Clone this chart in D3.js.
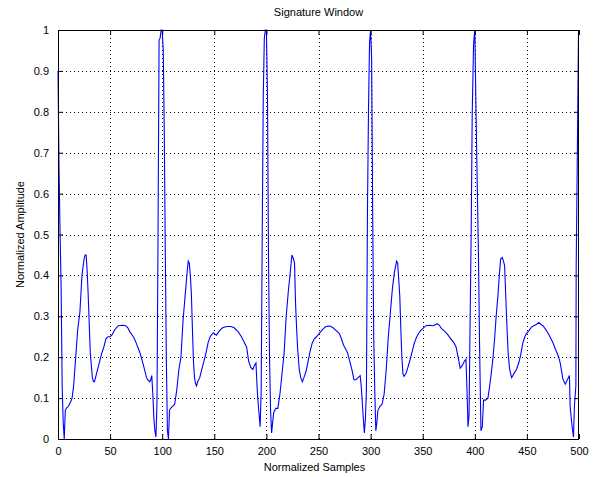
<!DOCTYPE html>
<html>
<head>
<meta charset="utf-8">
<script src="https://cdn.jsdelivr.net/npm/d3@7"></script>
<style>
  body { margin: 0; background: #fff; }
  svg text { font-family: Arial, "Liberation Sans", Helvetica, sans-serif; fill: #000; }
</style>
</head>
<body>
<svg id="chart" width="598" height="477"></svg>
<script>
// samples, one beat at a time [x, amplitude]
var beat0 = [[0,0.90],[1,0.66],[2,0.50],[3,0.37],[4,0.13],[5,0.04],[6,0.0],[7,0.07],[8,0.075],[10,0.08],[12,0.09],[13.5,0.10],[15,0.13],[17,0.2],[19,0.27],[21,0.31],[23,0.40],[25,0.44],[26,0.45],[27,0.45],[28,0.41],[29,0.35],[30,0.28],[31,0.21],[32,0.18],[33,0.15],[34,0.14],[35,0.14],[36,0.15],[38,0.17],[40,0.19],[42,0.21],[44,0.225],[46,0.245],[48,0.25],[50,0.25],[52,0.255],[54,0.265],[56,0.272],[58,0.277],[62,0.278],[65,0.277],[67,0.272],[69,0.262],[71,0.255],[73,0.247],[75,0.235],[77,0.222],[79,0.208],[81,0.19],[83,0.17],[85,0.15],[86,0.145],[88,0.14],[89,0.145],[90,0.155],[91,0.11],[92,0.05],[93,0.02],[94,0.005],[95,0.09]];
var beat1 = [[96,0.50],[97,0.975],[98,0.98],[99,1.0],[100,1.0],[101,0.95],[102,0.75],[103,0.45],[104,0.19],[105,0.02],[106,0.0],[107,0.07],[108,0.075],[110,0.08],[112,0.085],[114,0.12],[116,0.17],[118,0.2],[120,0.29],[122,0.35],[124,0.41],[125,0.435],[126,0.43],[127,0.4],[128,0.355],[129,0.27],[130,0.19],[131,0.15],[132,0.135],[133,0.13],[134,0.14],[136,0.15],[138,0.17],[140,0.19],[142,0.21],[144,0.235],[146,0.25],[149,0.26],[152,0.254],[155,0.265],[158,0.272],[162,0.275],[166,0.275],[169,0.272],[173,0.262],[176,0.25],[178,0.24],[181,0.225],[183,0.19],[185,0.175],[187,0.17],[188.5,0.18],[190,0.186],[191,0.13],[192,0.09],[193,0.06],[194,0.03],[195,0.12]];
var beat2 = [[196,0.5],[197,0.84],[198,0.98],[199,1.0],[200,1.0],[201,0.85],[202,0.45],[203,0.2],[204,0.07],[205,0.015],[206,0.04],[207,0.065],[209,0.075],[211,0.075],[213,0.11],[215,0.16],[217,0.21],[219,0.3],[221,0.36],[223,0.41],[224.5,0.45],[226,0.44],[227,0.43],[228,0.33],[229,0.27],[230,0.22],[231.5,0.17],[233,0.15],[234.5,0.14],[236,0.15],[238,0.165],[240,0.19],[242,0.215],[244,0.235],[246,0.245],[248,0.25],[251,0.259],[254,0.268],[257,0.275],[261,0.276],[264,0.272],[267,0.265],[270,0.258],[272,0.245],[274,0.23],[276,0.22],[278,0.21],[280,0.19],[282,0.17],[284,0.145],[286,0.145],[288,0.15],[290,0.155],[291,0.13],[292,0.09],[293,0.05],[294,0.015],[295,0.05],[296,0.12]];
var beat3 = [[297,0.56],[298,0.81],[299,0.97],[300,1.0],[301,0.93],[302,0.55],[303,0.25],[304,0.12],[305,0.02],[306,0.04],[307,0.07],[309,0.08],[311,0.085],[313,0.11],[315,0.17],[317,0.25],[319,0.31],[321,0.37],[323,0.41],[325,0.435],[326,0.43],[327,0.39],[328,0.35],[329,0.27],[330,0.2],[331,0.16],[332,0.153],[334,0.16],[336,0.177],[338,0.195],[340,0.215],[342,0.235],[344,0.248],[346,0.258],[348,0.265],[350,0.27],[353,0.277],[356,0.278],[360,0.277],[364,0.282],[366,0.278],[368,0.27],[371,0.264],[374,0.255],[377,0.245],[380,0.235],[382,0.225],[384,0.2],[386,0.173],[388,0.18],[390,0.19],[391.5,0.195],[392.5,0.12],[393.5,0.03],[394.5,0.06],[395.2,0.225]];
var beat4 = [[396.5,0.5],[397.5,0.79],[398.8,0.965],[400,1.0],[401.3,0.78],[402.5,0.6],[403.5,0.45],[404.6,0.226],[405.9,0.02],[407.2,0.03],[408.4,0.095],[410.3,0.095],[412.6,0.1],[414,0.125],[415.8,0.16],[417.5,0.2],[419,0.245],[420.5,0.3],[422.2,0.35],[423.5,0.4],[424.8,0.44],[426.4,0.444],[427.5,0.435],[428.6,0.424],[429.7,0.35],[430.8,0.277],[432,0.21],[433.4,0.171],[435.3,0.15],[436.5,0.155],[438.2,0.163],[440,0.17],[442.3,0.187],[444,0.205],[446.2,0.236],[448,0.25],[449.4,0.257],[452,0.265],[454.2,0.273],[456.5,0.277],[459,0.28],[461.5,0.285],[463.5,0.28],[465.4,0.277],[468,0.268],[470.1,0.26],[472.5,0.248],[474.9,0.236],[477,0.222],[478.7,0.212],[480.5,0.2],[481.9,0.187],[483.2,0.167],[484.5,0.147],[486.8,0.134],[489.2,0.147],[490.8,0.155],[491.5,0.08],[493.4,0.03],[494.7,0.005],[495.6,0.08],[497,0.13],[497.3,0.42],[498.5,0.72],[499.5,0.99],[500,1.0]];

var xTicks = [0,50,100,150,200,250,300,350,400,450,500];
var yTicks = [0,0.1,0.2,0.3,0.4,0.5,0.6,0.7,0.8,0.9,1];
var titleText = "Signature Window";
var xLabel = "Normalized Samples";
var yLabel = "Normalized Amplitude";

var allData = beat0.concat(beat1, beat2, beat3, beat4);

var svg = d3.select("#chart");
var margin = {left: 58, right: 19, top: 30, bottom: 38};
var W = 598, H = 477;

var xScale = d3.scaleLinear().domain([0,500]).range([margin.left, W - margin.right]);
var yScale = d3.scaleLinear().domain([0,1]).range([H - margin.bottom, margin.top]);

var x0 = xScale.range()[0], x1 = xScale.range()[1];
var y0 = yScale.range()[0], y1 = yScale.range()[1];

// dotted grid
var grid = svg.append("g").attr("class","grid");
grid.selectAll(".vgrid").data(xTicks.slice(1,-1)).enter().append("line")
  .attr("x1",function(d){return Math.round(xScale(d))+0.5;})
  .attr("x2",function(d){return Math.round(xScale(d))+0.5;})
  .attr("y1",y0).attr("y2",y1)
  .attr("stroke","#000").attr("stroke-dasharray","1,3");
grid.selectAll(".hgrid").data(yTicks.slice(1,-1)).enter().append("line")
  .attr("y1",function(d){return Math.round(yScale(d))+0.5;})
  .attr("y2",function(d){return Math.round(yScale(d))+0.5;})
  .attr("x1",x0).attr("x2",x1)
  .attr("stroke","#000").attr("stroke-dasharray","1,3");

// the signal
var line = d3.line()
  .x(function(d){return xScale(d[0]);})
  .y(function(d){return yScale(d[1]);});

svg.append("path")
  .datum(allData)
  .attr("d", line)
  .attr("fill","none")
  .attr("stroke","#0000ff")
  .attr("stroke-width",1.1);

// axes, ticks pointing inward, mirrored on top and right
var fmt = function(d){ return d3.format("")(+d.toFixed(1)); };
var xAxis = d3.axisBottom(xScale).tickValues(xTicks).tickSizeInner(-5).tickSizeOuter(0).tickPadding(8).tickFormat(fmt);
var xAxisTop = d3.axisTop(xScale).tickValues(xTicks).tickSizeInner(-5).tickSizeOuter(0).tickFormat("");
var yAxis = d3.axisLeft(yScale).tickValues(yTicks).tickSizeInner(-5).tickSizeOuter(0).tickPadding(9).tickFormat(fmt);
var yAxisRight = d3.axisRight(yScale).tickValues(yTicks).tickSizeInner(-5).tickSizeOuter(0).tickFormat("");

function styleAxis(g){
  g.select(".domain").remove();
  g.selectAll("line").attr("stroke","#000");
  g.selectAll("text").attr("font-size","11px").attr("font-family","Arial, 'Liberation Sans', sans-serif");
}

svg.append("g").attr("class","x axis").attr("transform","translate(0,"+y0+")").call(xAxis).call(styleAxis);
svg.append("g").attr("transform","translate(0,"+y1+")").call(xAxisTop).call(styleAxis);
svg.append("g").attr("class","y axis").attr("transform","translate("+x0+",0)").call(yAxis).call(styleAxis);
svg.append("g").attr("transform","translate("+x1+",0)").call(yAxisRight).call(styleAxis);

// box
svg.append("rect")
  .attr("x",x0+0.5).attr("y",y1+0.5)
  .attr("width",x1-x0-1).attr("height",y0-y1)
  .attr("fill","none").attr("stroke","#000");

// labels
svg.append("text").attr("x",(x0+x1)/2).attr("y",16).attr("text-anchor","middle")
  .attr("font-size","11px").text(titleText);
svg.append("text").attr("x",(x0+x1)/2 - 4).attr("y",471).attr("text-anchor","middle")
  .attr("font-size","11px").text(xLabel);
svg.append("text").attr("transform","translate(24,"+((y0+y1)/2)+") rotate(-90)")
  .attr("text-anchor","middle").attr("font-size","11px").text(yLabel);
</script>
</body>
</html>
